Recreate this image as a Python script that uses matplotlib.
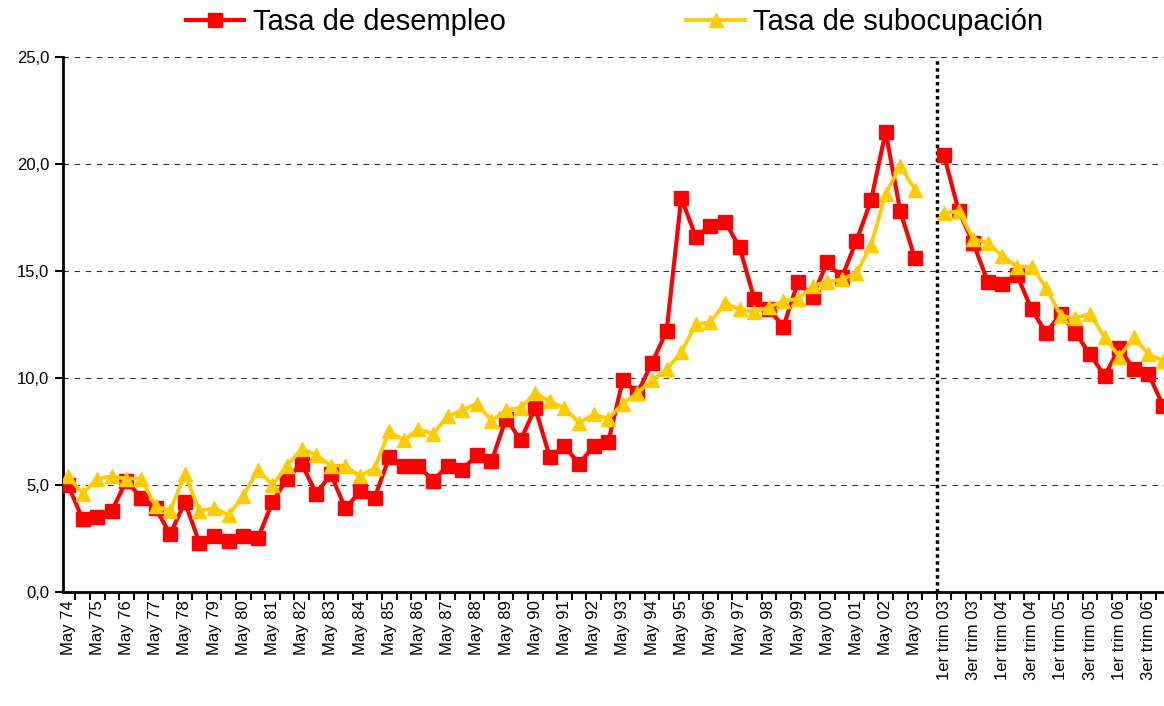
import numpy as np
import matplotlib
matplotlib.use('Agg')
import matplotlib.pyplot as plt
import matplotlib.ticker as ticker

plt.rcParams['font.family'] = ['Liberation Sans', 'DejaVu Sans']

# categorias: mayo/octubre 74-02, mayo 03, hueco, trimestres 03-06
years = ['%02d' % (y % 100) for y in range(74, 104)]
categories = []
for yy in years[:-1]:
    categories += ['May ' + yy, 'Oct ' + yy]
categories += ['May 03', '']
for yy in ['03', '04', '05', '06']:
    categories += ['1er trim ' + yy, '2do trim ' + yy, '3er trim ' + yy, '4to trim ' + yy]

desempleo = [5.0, 3.4, 3.5, 3.8, 5.2, 4.4, 3.9, 2.7, 4.2, 2.3,
             2.6, 2.4, 2.6, 2.5, 4.2, 5.3, 6.0, 4.6, 5.5, 3.9,
             4.7, 4.4, 6.3, 5.9, 5.9, 5.2, 5.9, 5.7, 6.4, 6.1,
             8.1, 7.1, 8.6, 6.3, 6.8, 6.0, 6.8, 7.0, 9.9, 9.3,
             10.7, 12.2, 18.4, 16.6, 17.1, 17.3, 16.1, 13.7, 13.2, 12.4,
             14.5, 13.8, 15.4, 14.7, 16.4, 18.3, 21.5, 17.8, 15.6, None,
             20.4, 17.8, 16.3, 14.5, 14.4, 14.8, 13.2, 12.1, 13.0, 12.1,
             11.1, 10.1, 11.4, 10.4, 10.2, 8.7]
subocupacion = [5.4, 4.6, 5.3, 5.4, 5.3, 5.3, 4.0, 3.8, 5.5, 3.8,
                3.9, 3.6, 4.5, 5.7, 5.0, 5.9, 6.7, 6.4, 5.9, 5.9,
                5.4, 5.8, 7.5, 7.1, 7.6, 7.4, 8.2, 8.5, 8.8, 8.0,
                8.5, 8.6, 9.3, 8.9, 8.6, 7.9, 8.3, 8.1, 8.8, 9.3,
                9.9, 10.4, 11.2, 12.5, 12.6, 13.5, 13.2, 13.1, 13.3, 13.6,
                13.7, 14.3, 14.5, 14.6, 14.9, 16.2, 18.6, 19.9, 18.8, None,
                17.7, 17.8, 16.5, 16.3, 15.7, 15.2, 15.2, 14.2, 12.9, 12.8,
                13.0, 11.9, 11.0, 11.9, 11.1, 10.8]

x = np.arange(len(categories))
des = np.array([np.nan if v is None else v for v in desempleo])
sub = np.array([np.nan if v is None else v for v in subocupacion])

fig = plt.figure(figsize=(11.64, 7.06), dpi=100)
ax = fig.add_axes([0.0537, 0.1615, 0.953, 0.758])

l1, = ax.plot(x, des, color='#FF0000', lw=3, marker='s', ms=10,
              label='Tasa de desempleo', zorder=3)
l2, = ax.plot(x, sub, color='#FFCC00', lw=2.7, marker='^', ms=10,
              label='Tasa de subocupación', zorder=4)

ax.axvline(59.5, color='black', ls=(0, (1, 1)), lw=2.5, zorder=2)

ax.set_xlim(-0.38, 75.6)
ax.set_ylim(0, 25)
ax.yaxis.set_major_locator(ticker.MultipleLocator(5))
ax.yaxis.set_major_formatter(ticker.FuncFormatter(lambda v, p: ('%.1f' % v).replace('.', ',')))
ax.grid(axis='y', color='black', ls=(0, (5, 5)), lw=0.8, alpha=0.8)
ax.set_axisbelow(True)

ax.set_xticks(x[::2])
ax.set_xticklabels(categories[::2], rotation=90)
ax.set_xticks(x[:-1] + 0.5, minor=True)
ax.tick_params(axis='x', which='major', length=0, labelsize=12, pad=6)
ax.tick_params(axis='x', which='minor', length=6, width=1.5, direction='out')
ax.tick_params(axis='y', length=6, width=1.5, labelsize=12)

for s in ['top', 'right']:
    ax.spines[s].set_visible(False)
ax.spines['left'].set_linewidth(2)
ax.spines['bottom'].set_linewidth(2)

fig.legend([l1, l2], ['Tasa de desempleo', 'Tasa de subocupación'], loc='center',
           bbox_to_anchor=(0.528, 0.969), ncol=2, frameon=False, fontsize=21,
           handlelength=2.0, handletextpad=0.3, columnspacing=6.2, numpoints=1)

fig.savefig('out.png', dpi=100)
